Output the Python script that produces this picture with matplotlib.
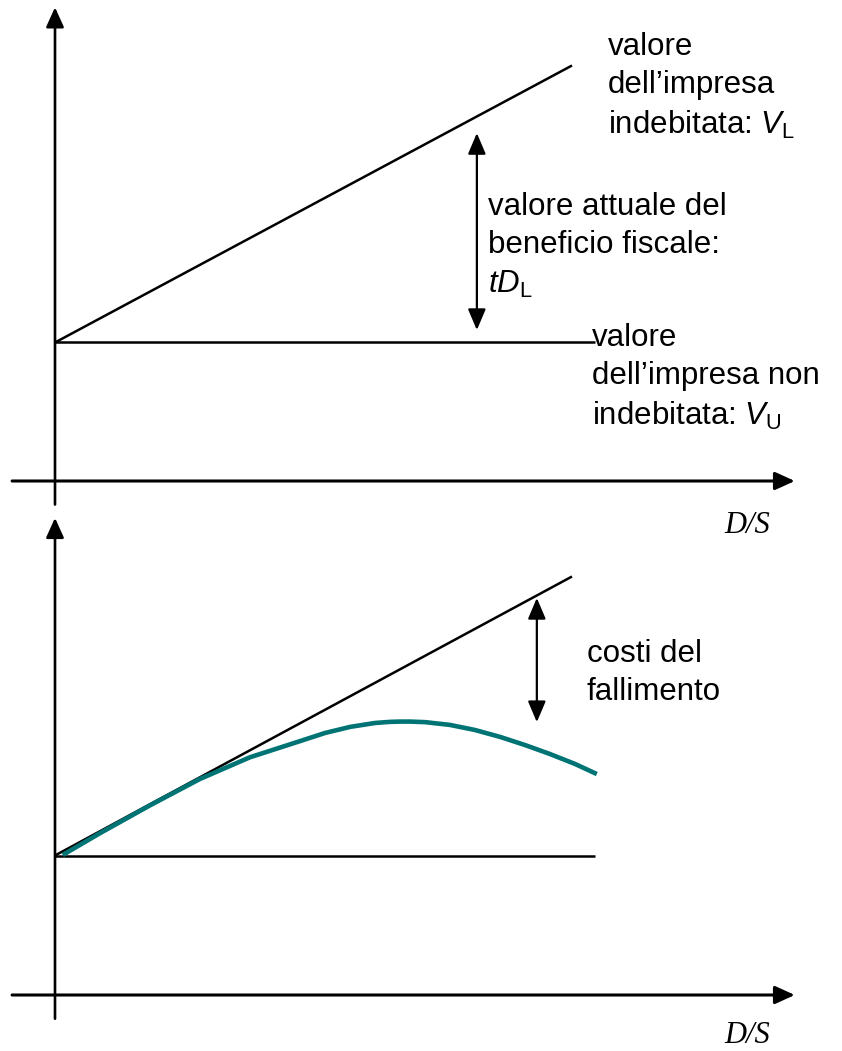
import matplotlib.pyplot as plt
import numpy as np

plt.rcParams['mathtext.fontset'] = 'custom'
plt.rcParams['mathtext.rm'] = 'Liberation Sans'
plt.rcParams['mathtext.it'] = 'Liberation Sans:italic'

# rapporto di indebitamento D/S e valori dell'impresa
ds_vl = [0, 10]          # tratto della retta V_L
v_l = [5, 15]            # valore dell'impresa indebitata
ds_vu = [0, 10.45]       # tratto della retta V_U
v_u = [5, 5]             # valore dell'impresa non indebitata

# curva del valore con costi del fallimento
ds_curva = [0.15, 0.87, 1.84, 2.80, 3.77, 4.74, 5.22, 5.71, 6.19, 6.48, 6.67,
            6.87, 7.16, 7.64, 8.12, 8.61, 9.09, 9.57, 10.06, 10.48]
v_curva = [5.02, 5.80, 6.80, 7.74, 8.52, 9.10, 9.39, 9.61, 9.75, 9.79, 9.80,
           9.80, 9.78, 9.68, 9.50, 9.25, 8.96, 8.64, 8.28, 7.92]

# frecce a due punte: (x, y basso, y alto)
freccia_fiscale = (8.16, 5.45, 12.56)
freccia_fallimento = (9.32, 9.78, 14.23)

# estensione degli assi
asse_x = (-0.83, 14.31)
asse_y = (-0.85, 17.1)

W, H = 842, 1051
fig = plt.figure(figsize=(W / 100, H / 100), dpi=100)

TEAL = '#007474'
font = dict(family='Liberation Sans', fontsize=22.5, linespacing=1.36)
font_ds = dict(family='Liberation Serif', fontstyle='italic', fontsize=22)


def pannello(top_px, bot_px, y0_px, sy):
    ax = fig.add_axes([0, 1 - bot_px / H, 1, (bot_px - top_px) / H])
    x0, sx = 55, 51.7
    ax.set_xlim(-x0 / sx, (W - x0) / sx)
    ax.set_ylim((y0_px - bot_px) / sy, (y0_px - top_px) / sy)
    ax.axis('off')
    return ax


def assi(ax, y_ds):
    stile = '-|>,head_length=0.75,head_width=0.34'
    ax.annotate('', xy=(asse_x[1], 0), xytext=(asse_x[0], 0),
                annotation_clip=False,
                arrowprops=dict(arrowstyle=stile, lw=2.2, color='k',
                                mutation_scale=16, shrinkA=0, shrinkB=0))
    ax.annotate('', xy=(0, asse_y[1]), xytext=(0, asse_y[0]),
                annotation_clip=False,
                arrowprops=dict(arrowstyle=stile, lw=1.9, color='k',
                                mutation_scale=16, shrinkA=0, shrinkB=0))
    ax.text(12.95, y_ds, 'D/S', ha='left', va='baseline', **font_ds)


def doppia(ax, f):
    x, y1, y2 = f
    ax.annotate('', xy=(x, y2), xytext=(x, y1), annotation_clip=False,
                arrowprops=dict(arrowstyle='<|-|>,head_length=0.8,head_width=0.34',
                                lw=1.6, color='k', mutation_scale=16,
                                shrinkA=0, shrinkB=0))


# pannello superiore
ax1 = pannello(0, 525, 481, 27.7)
assi(ax1, -1.88)
ax1.plot(ds_vl, v_l, color='k', lw=1.8, solid_capstyle='butt')
ax1.plot(ds_vu, v_u, color='k', lw=1.8, solid_capstyle='butt')
doppia(ax1, freccia_fiscale)
ax1.text(10.70, 12.53, 'valore\ndell\u2019impresa\nindebitata: $V_{\\mathrm{L}}$',
         ha='left', va='baseline', **font)
ax1.text(8.38, 6.79, 'valore attuale del\nbeneficio fiscale:\n$tD_{\\mathrm{L}}$',
         ha='left', va='baseline', **font)
ax1.text(10.39, 2.02, 'valore\ndell\u2019impresa non\nindebitata: $V_{\\mathrm{U}}$',
         ha='left', va='baseline', **font)

# pannello inferiore
ax2 = pannello(525, H, 995, 27.9)
assi(ax2, -1.72)
ax2.plot(ds_vl, v_l, color='k', lw=1.8, solid_capstyle='butt')
ax2.plot(ds_vu, v_u, color='k', lw=1.8, solid_capstyle='butt')
ax2.plot(ds_curva, v_curva, color=TEAL, lw=3.3, solid_capstyle='butt',
         solid_joinstyle='round')
doppia(ax2, freccia_fallimento)
ax2.text(10.29, 10.57, 'costi del\nfallimento', ha='left', va='baseline', **font)

fig.savefig('out.png', dpi=100)
